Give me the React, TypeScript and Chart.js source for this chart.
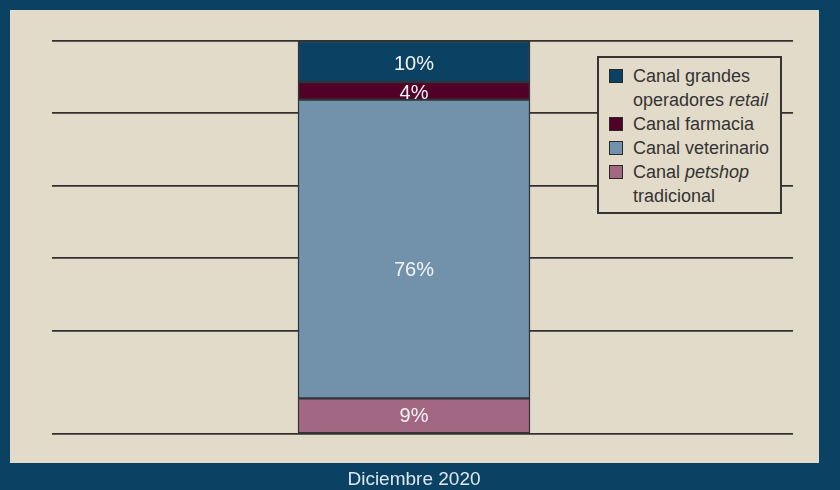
import React, { useEffect, useRef } from "react";
import { Chart, registerables } from "chart.js";

Chart.register(...registerables);

const categories = ["Diciembre 2020"];
// bottom to top of the stack
const seriesNames = [
  "Canal petshop tradicional",
  "Canal veterinario",
  "Canal farmacia",
  "Canal grandes operadores retail",
];
const seriesValues = [9.0, 75.5, 4.4, 10.4];
const seriesColors = ["#a26782", "#7292ab", "#520028", "#0b4263"];
const italicWords = ["petshop", "retail"];
const gridLevels = [0, 26.0, 44.5, 62.7, 81.1, 99.3];

const BORDER_BLUE = "#0b4263";
const BEIGE = "#e3dbc9";
const FONT = "'Liberation Sans', Arial, sans-serif";
// vertical nudges of the value labels (px), bottom to top
const LABEL_NUDGE = [1, 22, 3, 3];

const backgroundPlugin = {
  id: "bgPanel",
  beforeDraw(chart: any) {
    const { ctx, width, height } = chart;
    ctx.save();
    ctx.fillStyle = BORDER_BLUE;
    ctx.fillRect(0, 0, width, height);
    ctx.fillStyle = BEIGE;
    ctx.fillRect(10, 10, 809, 453);
    ctx.restore();
  },
};

const valueLabelPlugin = {
  id: "valueLabels",
  afterDatasetsDraw(chart: any) {
    const { ctx } = chart;
    ctx.save();
    ctx.font = `20px ${FONT}`;
    ctx.fillStyle = "#f3f3f3";
    ctx.textAlign = "center";
    ctx.textBaseline = "middle";
    chart.data.datasets.forEach((ds: any, i: number) => {
      const meta = chart.getDatasetMeta(i);
      meta.data.forEach((el: any, j: number) => {
        const v = ds.data[j].y;
        const yc = (el.y + el.base) / 2;
        ctx.fillText(`${Math.round(v)}%`, el.x, yc + (LABEL_NUDGE[i] ?? 0));
      });
    });
    ctx.restore();
  },
};

function LegendLabel({ text }: { text: string }) {
  const words = text.split(" ");
  return (
    <>
      {words.map((w, i) => (
        <React.Fragment key={i}>
          {italicWords.includes(w) ? <i>{w}</i> : w}
          {i < words.length - 1 ? " " : ""}
        </React.Fragment>
      ))}
    </>
  );
}

export default function App() {
  const canvasRef = useRef<HTMLCanvasElement | null>(null);

  useEffect(() => {
    document.body.style.margin = "0";
    document.body.style.background = BORDER_BLUE;
    const canvas = canvasRef.current;
    if (!canvas) return;
    const total = seriesValues.reduce((a, b) => a + b, 0);
    const chart = new Chart(canvas, {
      type: "bar",
      data: {
        datasets: seriesNames.map((name, i) => ({
          label: name,
          data: [{ x: 0, y: seriesValues[i] }],
          backgroundColor: seriesColors[i],
          borderColor: "#2f3538",
          borderWidth: 1.5,
          borderSkipped: false,
          barThickness: 232,
        })),
      },
      options: {
        responsive: false,
        animation: false,
        layout: { padding: { left: 52, right: 47, top: 41, bottom: 0 } },
        plugins: {
          legend: { display: false },
          tooltip: { enabled: false },
        },
        scales: {
          x: {
            type: "linear",
            stacked: true,
            offset: false,
            min: -1,
            max: 1.047,
            grid: { display: false, drawTicks: false, offset: false },
            border: { display: false },
            afterBuildTicks: (scale: any) => {
              scale.ticks = [{ value: 0 }];
            },
            afterFit: (scale: any) => {
              scale.height = 56;
            },
            ticks: {
              padding: 34,
              color: "#dfe7ee",
              font: { family: FONT, size: 19 },
              callback: (_v: any, i: number) => categories[i] ?? "",
              maxRotation: 0,
            },
          },
          y: {
            stacked: true,
            min: 0,
            max: total,
            border: { display: false },
            grid: {
              color: "#35312e",
              lineWidth: 1.7,
              drawTicks: false,
            },
            afterBuildTicks: (scale: any) => {
              scale.ticks = gridLevels.map((value) => ({ value }));
            },
            afterFit: (scale: any) => {
              scale.width = 0;
            },
            ticks: { display: false },
          },
        },
      },
      plugins: [backgroundPlugin, valueLabelPlugin],
    } as any);
    return () => chart.destroy();
  }, []);

  const legendOrder = seriesNames.map((_, i) => i).reverse();

  return (
    <div style={{ position: "relative", width: 840, height: 490, overflow: "hidden" }}>
      <canvas ref={canvasRef} width={840} height={490} style={{ position: "absolute", left: 0, top: 0 }} />
      <div
        style={{
          position: "absolute",
          left: 597,
          top: 56,
          width: 185,
          height: 158,
          boxSizing: "border-box",
          border: "2px solid #363330",
          background: BEIGE,
          padding: "6px 0 0 10px",
          fontFamily: FONT,
          fontSize: 18,
          lineHeight: "24px",
          color: "#333333",
        }}
      >
        {legendOrder.map((i) => (
          <div key={i} style={{ display: "flex", alignItems: "flex-start" }}>
            <div
              style={{
                width: 14,
                height: 14,
                marginTop: 5,
                marginRight: 10,
                flex: "0 0 auto",
                boxSizing: "border-box",
                background: seriesColors[i],
                border: "1px solid #2a2a2a",
              }}
            />
            <div style={{ width: 150 }}>
              <LegendLabel text={seriesNames[i]} />
            </div>
          </div>
        ))}
      </div>
    </div>
  );
}
